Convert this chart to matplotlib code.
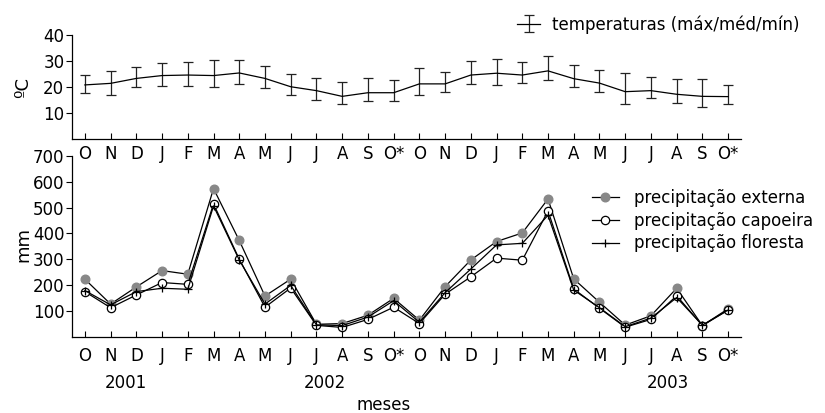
import matplotlib
matplotlib.use("Agg")
import matplotlib.pyplot as plt
import matplotlib.transforms as mtransforms
import numpy as np

plt.rcParams['font.family'] = ['DejaVu Sans']

months = ["O", "N", "D", "J", "F", "M", "A", "M", "J", "J", "A", "S", "O*",
          "O", "N", "D", "J", "F", "M", "A", "M", "J", "J", "A", "S", "O*"]

temp_mean = [20.8, 21.4, 23.3, 24.4, 24.6, 24.4, 25.4, 23.3, 20.1, 18.6, 16.4, 17.8, 17.8,
             21.2, 21.2, 24.6, 25.3, 24.6, 26.2, 23.2, 21.5, 18.2, 18.6, 17.2, 16.4, 16.3]
temp_max = [24.6, 26.3, 27.8, 29.3, 29.7, 30.3, 30.4, 28.2, 25.1, 23.6, 21.8, 23.3, 22.6,
            27.4, 25.6, 30.1, 30.6, 29.6, 32.0, 28.6, 26.7, 25.5, 24.0, 23.1, 23.2, 20.9]
temp_min = [17.6, 17.0, 19.9, 20.3, 20.5, 20.0, 21.3, 19.6, 16.9, 15.1, 13.3, 14.7, 14.7,
            17.0, 18.1, 21.2, 20.9, 21.4, 22.7, 19.9, 18.0, 13.5, 15.8, 13.7, 12.3, 13.5]

prec_externa = [224, 128, 194, 257, 243, 573, 373, 159, 224, 50, 53, 85, 150,
                66, 195, 298, 369, 402, 533, 225, 135, 47, 83, 189, 45, 110]
prec_capoeira = [176, 114, 163, 211, 204, 514, 301, 116, 190, 46, 38, 69, 116,
                 53, 166, 233, 305, 297, 487, 186, 112, 39, 69, 160, 45, 105]
prec_floresta = [180, 125, 176, 189, 185, 506, 298, 128, 200, 48, 45, 78, 141,
                 58, 172, 263, 356, 362, 470, 182, 114, 41, 74, 153, 47, 105]

years = ["2001", "2002", "2003"]
year_pos = [1.58, 9.34, 22.65]

FS = 12
x = np.arange(len(months))

fig = plt.figure(figsize=(8.25, 4.13), dpi=100)
W, H = 825, 413
ax2 = fig.add_axes([72 / W, 1 - 337.3 / H, (741 - 72) / W, (337.3 - 155.6) / H])
ax1 = fig.add_axes([72 / W, 1 - 139 / H, (741 - 72) / W, (139 - 35) / H])
ax1.patch.set_visible(False)
ax2.patch.set_visible(False)

for ax in (ax1, ax2):
    ax.spines['top'].set_visible(False)
    ax.spines['right'].set_visible(False)
    for s in ('left', 'bottom'):
        ax.spines[s].set_linewidth(0.9)
    ax.set_xlim(-0.5, 25.5)
    ax.set_xticks(x)
    ax.set_xticklabels(months)
    ax.tick_params(axis='x', direction='in', length=4, width=0.8, labelsize=FS)
    ax.tick_params(axis='y', direction='out', length=4, width=0.8, pad=1.5, labelsize=FS)

# Temperature
mean = np.array(temp_mean)
yerr = [mean - np.array(temp_min), np.array(temp_max) - mean]
eb = ax1.errorbar(x, mean, yerr=yerr, color='black', ecolor='#222222', lw=0.9,
                  elinewidth=0.9, capsize=3.3, capthick=0.9,
                  label='temperaturas (máx/méd/mín)')
ax1.set_ylim(0, 40)
ax1.set_yticks([10, 20, 30, 40])
ax1.tick_params(axis='x', pad=4)
ax1.legend(loc='upper left', bbox_to_anchor=(517 / W, 1 - 15 / H), bbox_transform=fig.transFigure,
           frameon=False, fontsize=FS, borderpad=0, borderaxespad=0, handlelength=1.4,
           handletextpad=0.7)

# Precipitation
ax2.plot(x, prec_externa, color='black', lw=0.9, marker='o', ms=6.2, mfc='#888888',
         mec='#888888', label='precipitação externa', zorder=2)
ax2.plot(x, prec_capoeira, color='black', lw=0.9, marker='o', ms=6, mfc='white',
         mec='black', mew=0.9, label='precipitação capoeira', zorder=3)
ax2.plot(x, prec_floresta, color='black', lw=0.9, marker='+', ms=6, mew=0.9,
         label='precipitação floresta', zorder=4)
ax2.set_ylim(0, 700)
ax2.set_yticks([100, 200, 300, 400, 500, 600, 700])
ax2.tick_params(axis='x', pad=7)
ax2.legend(loc='upper left', bbox_to_anchor=(592 / W, 1 - 189 / H), bbox_transform=fig.transFigure,
           frameon=False, fontsize=FS, borderpad=0, borderaxespad=0, handlelength=1.6,
           handletextpad=0.9, labelspacing=0.28)

trans = mtransforms.blended_transform_factory(ax2.transData, fig.transFigure)
for yr, pos in zip(years, year_pos):
    ax2.text(pos, 1 - 383 / H, yr, transform=trans, ha='center', va='center', fontsize=FS)

fig.text(384 / W, 1 - 405 / H, 'meses', ha='center', va='center', fontsize=FS)
fig.text(23 / W, 1 - 87 / H, 'ºC', rotation=90, ha='center', va='center', fontsize=13)
fig.text(23 / W, 1 - 245 / H, 'mm', rotation=90, ha='center', va='center', fontsize=13)

fig.savefig('out.png', dpi=100)
